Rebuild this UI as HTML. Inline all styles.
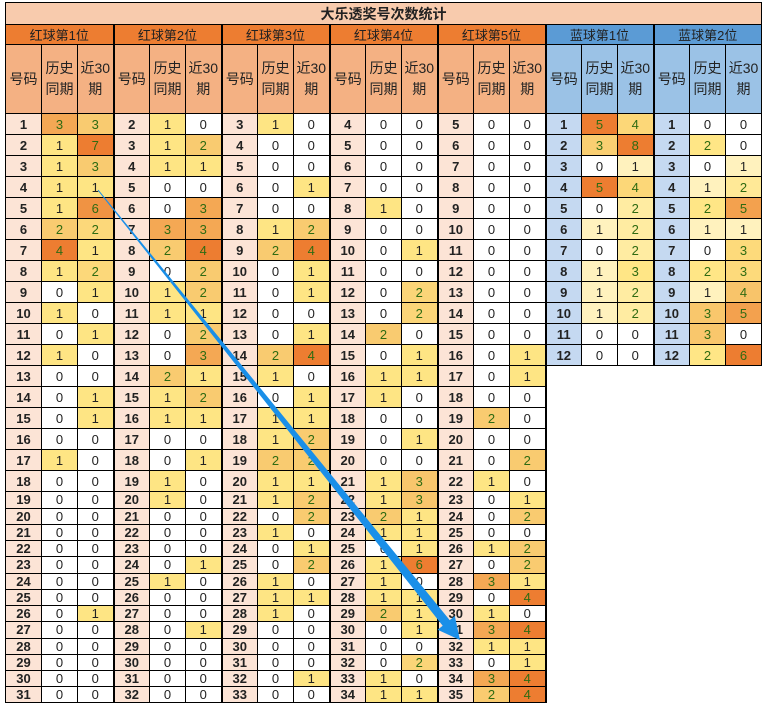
<!DOCTYPE html>
<html><head><meta charset="utf-8">
<style>
html,body{margin:0;padding:0;background:#fff;width:768px;height:709px;overflow:hidden;position:relative}
table{position:absolute;left:5px;top:2px;border-collapse:collapse;table-layout:fixed;width:757px;font-family:"Liberation Sans","Noto Sans CJK SC",sans-serif}
td{border:1px solid #000;text-align:center;padding:0;font-size:13px;color:#222;overflow:hidden;white-space:nowrap}
.t{background:#F8CBAD;font-weight:bold;font-size:14px;height:21px;border:1px solid #000}
.gr{background:#ED7D31;font-size:13px;height:15px;color:#222}
.gb{background:#5B9BD5;font-size:13px;height:15px;color:#222}
.sr{background:#F4B183;font-size:14px;line-height:21px;height:68px;white-space:normal}
.sb{background:#9BC2E6;font-size:14px;line-height:21px;height:68px;white-space:normal}
.g{border-left:2px solid #000}
.n{background:#FCE4D6;font-weight:bold}
.nb{background:#C5D9F1;font-weight:bold}
.e{border:none;border-left:2px solid #000;background:#fff}
tbody tr.a td{height:20px}
tbody tr.b td{height:15px;line-height:15px}
tbody tr.c td{height:16px;line-height:16px}
</style></head><body>
<table>
<colgroup><col style="width:36px"><col style="width:36px"><col style="width:36px"><col style="width:36px"><col style="width:36px"><col style="width:36px"><col style="width:36px"><col style="width:36px"><col style="width:36px"><col style="width:36px"><col style="width:36px"><col style="width:36px"><col style="width:36px"><col style="width:36px"><col style="width:36px"><col style="width:36px"><col style="width:36px"><col style="width:36px"><col style="width:36px"><col style="width:36px"><col style="width:36px"></colgroup>
<thead>
<tr><td class="t" colspan="21">大乐透奖号次数统计</td></tr>
<tr><td class="gr" colspan="3">红球第1位</td><td class="gr g" colspan="3">红球第2位</td><td class="gr g" colspan="3">红球第3位</td><td class="gr g" colspan="3">红球第4位</td><td class="gr g" colspan="3">红球第5位</td><td class="gb g" colspan="3">蓝球第1位</td><td class="gb g" colspan="3">蓝球第2位</td></tr>
<tr>
<td class="sr">号码</td><td class="sr">历史<br>同期</td><td class="sr">近30<br>期</td>
<td class="sr g">号码</td><td class="sr">历史<br>同期</td><td class="sr">近30<br>期</td>
<td class="sr g">号码</td><td class="sr">历史<br>同期</td><td class="sr">近30<br>期</td>
<td class="sr g">号码</td><td class="sr">历史<br>同期</td><td class="sr">近30<br>期</td>
<td class="sr g">号码</td><td class="sr">历史<br>同期</td><td class="sr">近30<br>期</td>
<td class="sb g">号码</td><td class="sb">历史<br>同期</td><td class="sb">近30<br>期</td>
<td class="sb g">号码</td><td class="sb">历史<br>同期</td><td class="sb">近30<br>期</td>
</tr>
</thead>
<tbody id="tb">
<tr class="a"><td class="n">1</td><td>3</td><td>3</td><td class="n g">2</td><td>1</td><td>0</td><td class="n g">3</td><td>1</td><td>0</td><td class="n g">4</td><td>0</td><td>0</td><td class="n g">5</td><td>0</td><td>0</td><td class="nb g">1</td><td>5</td><td>4</td><td class="nb g">1</td><td>0</td><td>0</td></tr>
<tr class="a"><td class="n">2</td><td>1</td><td>7</td><td class="n g">3</td><td>1</td><td>2</td><td class="n g">4</td><td>0</td><td>0</td><td class="n g">5</td><td>0</td><td>0</td><td class="n g">6</td><td>0</td><td>0</td><td class="nb g">2</td><td>3</td><td>8</td><td class="nb g">2</td><td>2</td><td>0</td></tr>
<tr class="a"><td class="n">3</td><td>1</td><td>3</td><td class="n g">4</td><td>1</td><td>1</td><td class="n g">5</td><td>0</td><td>0</td><td class="n g">6</td><td>0</td><td>0</td><td class="n g">7</td><td>0</td><td>0</td><td class="nb g">3</td><td>0</td><td>1</td><td class="nb g">3</td><td>0</td><td>1</td></tr>
<tr class="a"><td class="n">4</td><td>1</td><td>1</td><td class="n g">5</td><td>0</td><td>0</td><td class="n g">6</td><td>0</td><td>1</td><td class="n g">7</td><td>0</td><td>0</td><td class="n g">8</td><td>0</td><td>0</td><td class="nb g">4</td><td>5</td><td>4</td><td class="nb g">4</td><td>1</td><td>2</td></tr>
<tr class="a"><td class="n">5</td><td>1</td><td>6</td><td class="n g">6</td><td>0</td><td>3</td><td class="n g">7</td><td>0</td><td>0</td><td class="n g">8</td><td>1</td><td>0</td><td class="n g">9</td><td>0</td><td>0</td><td class="nb g">5</td><td>0</td><td>2</td><td class="nb g">5</td><td>2</td><td>5</td></tr>
<tr class="a"><td class="n">6</td><td>2</td><td>2</td><td class="n g">7</td><td>3</td><td>3</td><td class="n g">8</td><td>1</td><td>2</td><td class="n g">9</td><td>0</td><td>0</td><td class="n g">10</td><td>0</td><td>0</td><td class="nb g">6</td><td>1</td><td>2</td><td class="nb g">6</td><td>1</td><td>1</td></tr>
<tr class="a"><td class="n">7</td><td>4</td><td>1</td><td class="n g">8</td><td>2</td><td>4</td><td class="n g">9</td><td>2</td><td>4</td><td class="n g">10</td><td>0</td><td>1</td><td class="n g">11</td><td>0</td><td>0</td><td class="nb g">7</td><td>0</td><td>2</td><td class="nb g">7</td><td>0</td><td>3</td></tr>
<tr class="a"><td class="n">8</td><td>1</td><td>2</td><td class="n g">9</td><td>0</td><td>2</td><td class="n g">10</td><td>0</td><td>1</td><td class="n g">11</td><td>0</td><td>0</td><td class="n g">12</td><td>0</td><td>0</td><td class="nb g">8</td><td>1</td><td>3</td><td class="nb g">8</td><td>2</td><td>3</td></tr>
<tr class="a"><td class="n">9</td><td>0</td><td>1</td><td class="n g">10</td><td>1</td><td>2</td><td class="n g">11</td><td>0</td><td>1</td><td class="n g">12</td><td>0</td><td>2</td><td class="n g">13</td><td>0</td><td>0</td><td class="nb g">9</td><td>1</td><td>2</td><td class="nb g">9</td><td>1</td><td>4</td></tr>
<tr class="a"><td class="n">10</td><td>1</td><td>0</td><td class="n g">11</td><td>1</td><td>1</td><td class="n g">12</td><td>0</td><td>0</td><td class="n g">13</td><td>0</td><td>2</td><td class="n g">14</td><td>0</td><td>0</td><td class="nb g">10</td><td>1</td><td>2</td><td class="nb g">10</td><td>3</td><td>5</td></tr>
<tr class="a"><td class="n">11</td><td>0</td><td>1</td><td class="n g">12</td><td>0</td><td>2</td><td class="n g">13</td><td>0</td><td>1</td><td class="n g">14</td><td>2</td><td>0</td><td class="n g">15</td><td>0</td><td>0</td><td class="nb g">11</td><td>0</td><td>0</td><td class="nb g">11</td><td>3</td><td>0</td></tr>
<tr class="a"><td class="n">12</td><td>1</td><td>0</td><td class="n g">13</td><td>0</td><td>3</td><td class="n g">14</td><td>2</td><td>4</td><td class="n g">15</td><td>0</td><td>1</td><td class="n g">16</td><td>0</td><td>1</td><td class="nb g">12</td><td>0</td><td>0</td><td class="nb g">12</td><td>2</td><td>6</td></tr>
<tr class="a"><td class="n">13</td><td>0</td><td>0</td><td class="n g">14</td><td>2</td><td>1</td><td class="n g">15</td><td>1</td><td>0</td><td class="n g">16</td><td>1</td><td>1</td><td class="n g">17</td><td>0</td><td>1</td><td class="e" colspan="6" rowspan="19" style="border-top:1px solid #000"></td></tr>
<tr class="a"><td class="n">14</td><td>0</td><td>1</td><td class="n g">15</td><td>1</td><td>2</td><td class="n g">16</td><td>0</td><td>1</td><td class="n g">17</td><td>1</td><td>0</td><td class="n g">18</td><td>0</td><td>0</td></tr>
<tr class="a"><td class="n">15</td><td>0</td><td>1</td><td class="n g">16</td><td>1</td><td>1</td><td class="n g">17</td><td>1</td><td>1</td><td class="n g">18</td><td>0</td><td>0</td><td class="n g">19</td><td>2</td><td>0</td></tr>
<tr class="a"><td class="n">16</td><td>0</td><td>0</td><td class="n g">17</td><td>0</td><td>0</td><td class="n g">18</td><td>1</td><td>2</td><td class="n g">19</td><td>0</td><td>1</td><td class="n g">20</td><td>0</td><td>0</td></tr>
<tr class="a"><td class="n">17</td><td>1</td><td>0</td><td class="n g">18</td><td>0</td><td>1</td><td class="n g">19</td><td>2</td><td>2</td><td class="n g">20</td><td>0</td><td>0</td><td class="n g">21</td><td>0</td><td>2</td></tr>
<tr class="a"><td class="n">18</td><td>0</td><td>0</td><td class="n g">19</td><td>1</td><td>0</td><td class="n g">20</td><td>1</td><td>1</td><td class="n g">21</td><td>1</td><td>3</td><td class="n g">22</td><td>1</td><td>0</td></tr>
<tr class="c"><td class="n">19</td><td>0</td><td>0</td><td class="n g">20</td><td>1</td><td>0</td><td class="n g">21</td><td>1</td><td>2</td><td class="n g">22</td><td>1</td><td>3</td><td class="n g">23</td><td>0</td><td>1</td></tr>
<tr class="b"><td class="n">20</td><td>0</td><td>0</td><td class="n g">21</td><td>0</td><td>0</td><td class="n g">22</td><td>0</td><td>2</td><td class="n g">23</td><td>2</td><td>1</td><td class="n g">24</td><td>0</td><td>2</td></tr>
<tr class="b"><td class="n">21</td><td>0</td><td>0</td><td class="n g">22</td><td>0</td><td>0</td><td class="n g">23</td><td>1</td><td>0</td><td class="n g">24</td><td>1</td><td>1</td><td class="n g">25</td><td>0</td><td>0</td></tr>
<tr class="b"><td class="n">22</td><td>0</td><td>0</td><td class="n g">23</td><td>0</td><td>0</td><td class="n g">24</td><td>0</td><td>1</td><td class="n g">25</td><td>0</td><td>1</td><td class="n g">26</td><td>1</td><td>2</td></tr>
<tr class="c"><td class="n">23</td><td>0</td><td>0</td><td class="n g">24</td><td>0</td><td>1</td><td class="n g">25</td><td>0</td><td>2</td><td class="n g">26</td><td>1</td><td>6</td><td class="n g">27</td><td>0</td><td>2</td></tr>
<tr class="b"><td class="n">24</td><td>0</td><td>0</td><td class="n g">25</td><td>1</td><td>0</td><td class="n g">26</td><td>1</td><td>0</td><td class="n g">27</td><td>1</td><td>0</td><td class="n g">28</td><td>3</td><td>1</td></tr>
<tr class="b"><td class="n">25</td><td>0</td><td>0</td><td class="n g">26</td><td>0</td><td>0</td><td class="n g">27</td><td>1</td><td>1</td><td class="n g">28</td><td>1</td><td>1</td><td class="n g">29</td><td>0</td><td>4</td></tr>
<tr class="b"><td class="n">26</td><td>0</td><td>1</td><td class="n g">27</td><td>0</td><td>0</td><td class="n g">28</td><td>1</td><td>0</td><td class="n g">29</td><td>2</td><td>1</td><td class="n g">30</td><td>1</td><td>0</td></tr>
<tr class="c"><td class="n">27</td><td>0</td><td>0</td><td class="n g">28</td><td>0</td><td>1</td><td class="n g">29</td><td>0</td><td>0</td><td class="n g">30</td><td>0</td><td>1</td><td class="n g">31</td><td>3</td><td>4</td></tr>
<tr class="b"><td class="n">28</td><td>0</td><td>0</td><td class="n g">29</td><td>0</td><td>0</td><td class="n g">30</td><td>0</td><td>0</td><td class="n g">31</td><td>0</td><td>0</td><td class="n g">32</td><td>1</td><td>1</td></tr>
<tr class="b"><td class="n">29</td><td>0</td><td>0</td><td class="n g">30</td><td>0</td><td>0</td><td class="n g">31</td><td>0</td><td>0</td><td class="n g">32</td><td>0</td><td>2</td><td class="n g">33</td><td>0</td><td>1</td></tr>
<tr class="b"><td class="n">30</td><td>0</td><td>0</td><td class="n g">31</td><td>0</td><td>0</td><td class="n g">32</td><td>0</td><td>1</td><td class="n g">33</td><td>1</td><td>0</td><td class="n g">34</td><td>3</td><td>4</td></tr>
<tr class="b"><td class="n">31</td><td>0</td><td>0</td><td class="n g">32</td><td>0</td><td>0</td><td class="n g">33</td><td>0</td><td>0</td><td class="n g">34</td><td>1</td><td>1</td><td class="n g">35</td><td>2</td><td>4</td></tr>
</tbody>
</table>
<svg width="768" height="709" style="position:absolute;left:0;top:0;pointer-events:none">
<polygon points="97.6,190.3 442.7,625.7 437.6,629.8 460,640 454.8,616 449.7,620.1 98.4,189.7" fill="#1a8fe8"/>
</svg>
<script>
(function(){
var rows=document.getElementById('tb').rows;
var cols={};
for(var r=0;r<rows.length;r++){var c=rows[r].cells;for(var i=0;i<c.length;i++){if(i%3==0||c[i].className=='e')continue;(cols[i]=cols[i]||[]).push(c[i]);}}
function hx(h){return [parseInt(h.substr(1,2),16),parseInt(h.substr(3,2),16),parseInt(h.substr(5,2),16)];}
function grad(stops,t){if(t>1)t=1;for(var k=1;k<stops.length;k++){if(t<=stops[k][0]){var a=stops[k-1],b=stops[k];var u=(t-a[0])/(b[0]-a[0]||1);var x=hx(a[1]),y=hx(b[1]);return 'rgb('+x.map(function(v,j){return Math.round(v+(y[j]-v)*u)}).join(',')+')';}}return stops[stops.length-1][1];}
var RS=[[0,'#FEE584'],[0.5,'#F7BE66'],[1,'#ED7D31']];
var BS=[[0,'#FFF2BE'],[0.3,'#FFE583'],[0.6,'#F8C46A'],[1,'#ED7D31']];
for(var k in cols){var arr=cols[k];var mx=0;arr.forEach(function(td){mx=Math.max(mx,+td.textContent)});
var blue=(+k>=15);var st=blue?BS:RS;
var den=blue?Math.max(mx-1,3.5):Math.max(mx-1,3);
arr.forEach(function(td){var v=+td.textContent;if(v>0){var t=(v-1)/den;td.style.background=grad(st,t);}
td.style.color=v>=2?'#2f6b12':'#222';});}
})();
</script>
</body></html>
